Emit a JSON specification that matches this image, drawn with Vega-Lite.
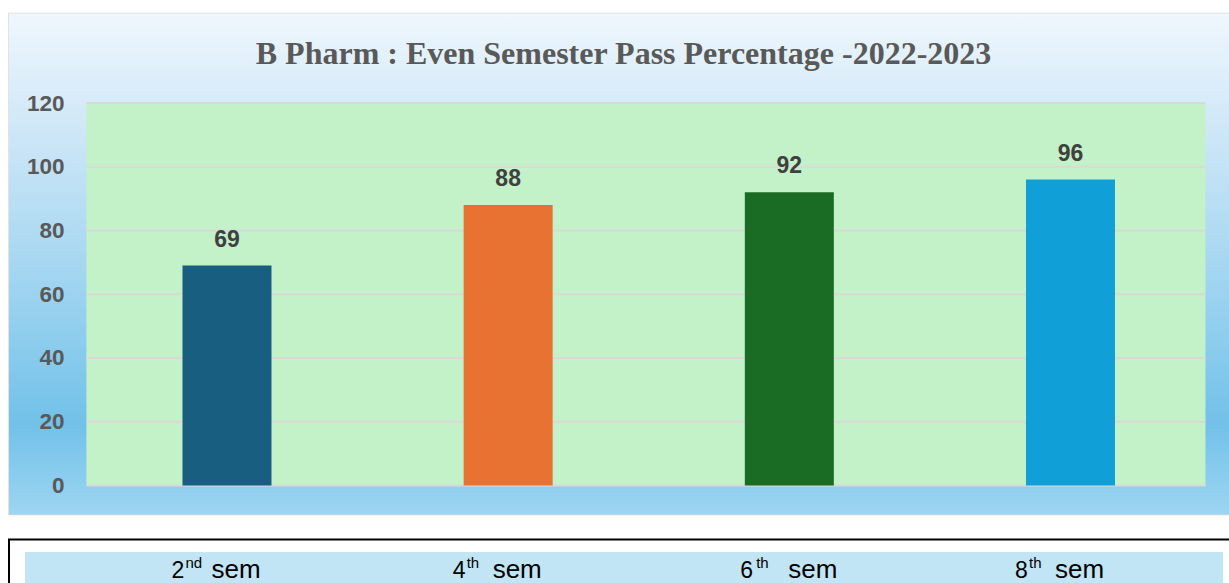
{
  "$schema": "https://vega.github.io/schema/vega-lite/v6.json",
  "padding": {"left": 8, "top": 12.5, "right": 0, "bottom": 0},
  "background": "white",
  "spacing": 23,
  "datasets": {
    "sems": [
      {"sem": 1, "semester": "2nd sem", "pct": 69, "num": "2", "sup": "nd", "rest": "sem"},
      {"sem": 2, "semester": "4th sem", "pct": 88, "num": "4", "sup": "th", "rest": "sem"},
      {"sem": 3, "semester": "6th sem", "pct": 92, "num": "\u200b\u00a06", "sup": "\u200b\u00a0\u00a0th", "rest": "\u200b\u00a0\u00a0sem"},
      {"sem": 4, "semester": "8th sem", "pct": 96, "num": "8", "sup": "th", "rest": "sem"}
    ],
    "grid": [{"g": 0}, {"g": 20}, {"g": 40}, {"g": 60}, {"g": 80}, {"g": 100}, {"g": 120}],
    "one": [{"k": 1}]
  },
  "vconcat": [
    {
      "width": 1221,
      "height": 501,
      "view": {"stroke": "#d9d9d9", "strokeWidth": 1.5},
      "title": {
        "text": "B Pharm : Even Semester Pass Percentage -2022-2023",
        "font": "Liberation Serif",
        "fontSize": 32,
        "fontWeight": "bold",
        "color": "#595959",
        "anchor": "middle",
        "baseline": "alphabetic",
        "offset": -82,
        "dx": 4
      },
      "layer": [
        {
          "data": {"name": "one"},
          "mark": {
            "type": "rect",
            "color": {
              "gradient": "linear",
              "x1": 0, "y1": 0, "x2": 0, "y2": 1,
              "stops": [
                {"offset": 0, "color": "#eff7fd"},
                {"offset": 0.2, "color": "#d3e9f8"},
                {"offset": 0.5, "color": "#a6d7f1"},
                {"offset": 0.82, "color": "#72c1e9"},
                {"offset": 1, "color": "#9dd5f1"}
              ]
            }
          },
          "encoding": {}
        },
        {
          "data": {"name": "one"},
          "mark": {"type": "rect", "color": "#c3f1c8"},
          "encoding": {
            "x": {"datum": 0.5, "type": "quantitative", "scale": {"domain": [0.2247, 4.5673], "nice": false, "zero": false, "padding": 0}, "axis": null},
            "x2": {"datum": 4.48},
            "y": {
              "datum": 0, "type": "quantitative",
              "scale": {"domain": [-9.1, 148.08], "nice": false, "zero": false, "padding": 0},
              "axis": {
                "values": [0, 20, 40, 60, 80, 100, 120],
                "offset": -55,
                "ticks": false,
                "domain": false,
                "grid": false,
                "title": null,
                "zindex": 2,
                "labelPadding": 0,
                "labelFont": "Liberation Sans",
                "labelFontSize": 22.5,
                "labelFontWeight": "bold",
                "labelColor": "#595959"
              }
            },
            "y2": {"datum": 120}
          }
        },
        {
          "data": {"name": "grid"},
          "mark": {"type": "rule", "color": "#d9d9d9", "strokeWidth": 2},
          "encoding": {
            "x": {"datum": 0.5, "type": "quantitative"},
            "x2": {"datum": 4.48},
            "y": {"field": "g", "type": "quantitative", "title": null}
          }
        },
        {
          "data": {"name": "sems"},
          "mark": {"type": "bar", "size": 89},
          "encoding": {
            "x": {"field": "sem", "type": "quantitative"},
            "y": {"field": "pct", "type": "quantitative", "title": null},
            "y2": {"datum": 0},
            "color": {
              "field": "semester", "type": "nominal",
              "scale": {"domain": ["2nd sem", "4th sem", "6th sem", "8th sem"], "range": ["#175e80", "#e87232", "#1a6b24", "#119fd8"]},
              "legend": null
            }
          }
        },
        {
          "data": {"name": "sems"},
          "mark": {"type": "text", "dy": -19, "baseline": "alphabetic", "align": "center", "font": "Liberation Sans", "fontSize": 23, "fontWeight": "bold", "color": "#404040"},
          "encoding": {
            "x": {"field": "sem", "type": "quantitative"},
            "y": {"field": "pct", "type": "quantitative", "title": null},
            "text": {"field": "pct", "type": "quantitative"}
          }
        }
      ]
    },
    {
      "width": 1221,
      "height": 48,
      "view": {"stroke": "#000000", "strokeWidth": 2, "fill": "white"},
      "layer": [
        {
          "data": {"name": "one"},
          "mark": {"type": "rect", "color": "#c1e5f4"},
          "encoding": {
            "x": {"datum": 0.2816, "type": "quantitative", "scale": {"domain": [0.2247, 4.5673], "nice": false, "zero": false, "padding": 0}, "axis": null},
            "x2": {"datum": 4.5423},
            "y": {"datum": 0.094, "type": "quantitative", "scale": {"domain": [0, 1], "nice": false, "zero": false, "padding": 0}, "axis": null},
            "y2": {"datum": 0.74}
          }
        },
        {
          "data": {"name": "sems"},
          "mark": {"type": "text", "align": "left", "baseline": "alphabetic", "dx": -55.5, "font": "Liberation Sans", "fontSize": 23, "color": "#000000"},
          "encoding": {
            "x": {"field": "sem", "type": "quantitative", "axis": null},
            "y": {"datum": 0.208, "type": "quantitative", "axis": null},
            "text": {"field": "num"}
          }
        },
        {
          "data": {"name": "sems"},
          "mark": {"type": "text", "align": "left", "baseline": "alphabetic", "dx": -41.5, "font": "Liberation Sans", "fontSize": 15, "color": "#000000"},
          "encoding": {
            "x": {"field": "sem", "type": "quantitative", "axis": null},
            "y": {"datum": 0.406, "type": "quantitative", "axis": null},
            "text": {"field": "sup"}
          }
        },
        {
          "data": {"name": "sems"},
          "mark": {"type": "text", "align": "left", "baseline": "alphabetic", "dx": -15.5, "font": "Liberation Sans", "fontSize": 26, "color": "#000000"},
          "encoding": {
            "x": {"field": "sem", "type": "quantitative", "axis": null},
            "y": {"datum": 0.208, "type": "quantitative", "axis": null},
            "text": {"field": "rest"}
          }
        }
      ]
    }
  ]
}
